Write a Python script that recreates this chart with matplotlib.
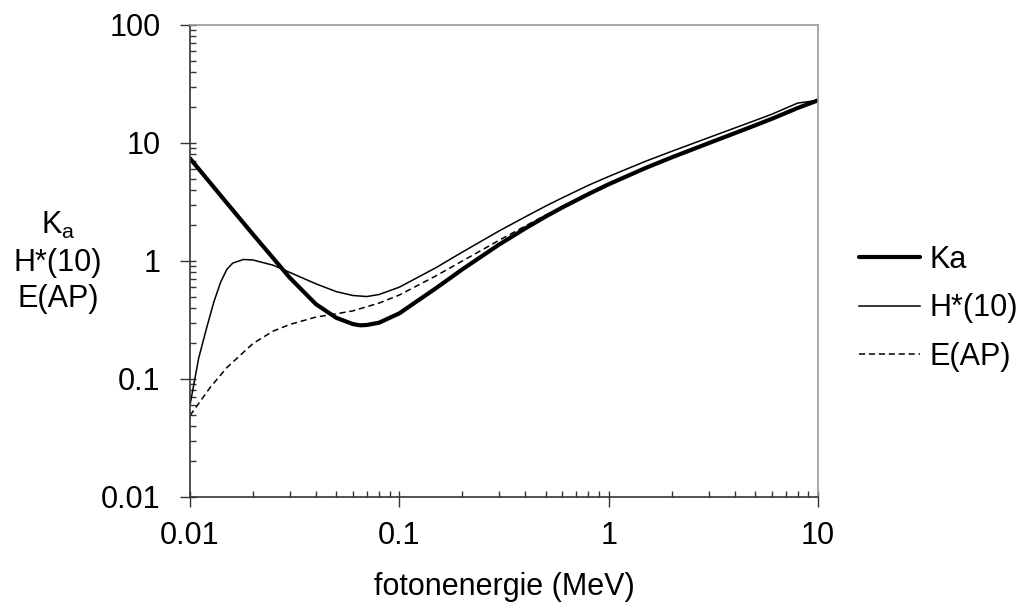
import numpy as np
import matplotlib
matplotlib.use("Agg")
from matplotlib import pyplot as plt
from matplotlib.ticker import LogLocator, FixedFormatter, FixedLocator, NullFormatter

plt.rcParams['font.family'] = ['Liberation Sans', 'DejaVu Sans']
plt.rcParams['mathtext.default'] = 'regular'

# photon energy (MeV) and conversion coefficients
energy_ka = [0.01, 0.015, 0.02, 0.03, 0.04, 0.05, 0.06, 0.065, 0.07, 0.08, 0.1, 0.15, 0.2, 0.3,
             0.4, 0.5, 0.6, 0.8, 1, 1.5, 2, 3, 4, 5, 6, 8, 10]
ka = [7.4, 3.1, 1.68, 0.72, 0.43, 0.33, 0.292, 0.285, 0.287, 0.30, 0.36, 0.59, 0.85, 1.38,
      1.89, 2.38, 2.84, 3.69, 4.47, 6.14, 7.55, 9.96, 12.1, 14.1, 16.0, 19.8, 23.0]

energy_h = [0.01, 0.011, 0.012, 0.013, 0.014, 0.015, 0.016, 0.018, 0.02, 0.025, 0.03, 0.04,
            0.05, 0.06, 0.07, 0.08, 0.1, 0.15, 0.2, 0.3, 0.4, 0.5, 0.6, 0.8, 1, 1.5, 2, 3,
            4, 5, 6, 8, 10]
h10 = [0.06, 0.15, 0.27, 0.45, 0.66, 0.85, 0.96, 1.03, 1.02, 0.92, 0.80, 0.64,
       0.55, 0.51, 0.50, 0.52, 0.60, 0.88, 1.19, 1.80, 2.37, 2.92, 3.43, 4.38, 5.2, 7.0,
       8.5, 11.1, 13.4, 15.5, 17.5, 21.8, 23.0]

energy_e = [0.01, 0.0125, 0.015, 0.02, 0.025, 0.03, 0.04, 0.05, 0.06, 0.08, 0.1, 0.15, 0.2,
            0.3, 0.4, 0.5, 0.6, 0.8, 1, 1.5, 2, 3, 4, 5, 6, 8, 10]
e_ap = [0.049, 0.085, 0.125, 0.2, 0.255, 0.29, 0.335, 0.357, 0.378, 0.44, 0.515, 0.75, 1.0,
        1.5, 1.98, 2.45, 2.88, 3.69, 4.47, 6.1, 7.5, 9.9, 12.0, 14.0, 15.9, 19.7, 23.0]

x_ticks = [0.01, 0.1, 1, 10]
x_labels = ['0.01', '0.1', '1', '10']
y_ticks = [0.01, 0.1, 1, 10, 100]
y_labels = ['0.01', '0.1', '1', '10', '100']

fig = plt.figure(figsize=(10.26, 6.07), dpi=100)
ax = fig.add_axes([190/1026, 1-497/607, 628/1026, 472/607])

ax.plot(energy_ka, ka, color='black', lw=3.0, label='Ka', solid_capstyle='round',
        solid_joinstyle='round')
ax.plot(energy_h, h10, color='black', lw=1.1, label='H*(10)', solid_joinstyle='round')
ax.plot(energy_e, e_ap, color='black', lw=1.1, ls=(0, (4, 2.5)), label='E(AP)')

ax.set_xscale('log')
ax.set_yscale('log')
ax.set_xlim(0.01, 10)
ax.set_ylim(0.01, 100)

ax.xaxis.set_major_locator(FixedLocator(x_ticks))
ax.xaxis.set_major_formatter(FixedFormatter(x_labels))
ax.yaxis.set_major_locator(FixedLocator(y_ticks))
ax.yaxis.set_major_formatter(FixedFormatter(y_labels))
ax.xaxis.set_minor_locator(LogLocator(base=10, subs=np.arange(1, 10)))
ax.yaxis.set_minor_locator(LogLocator(base=10, subs=np.arange(1, 10)))
ax.xaxis.set_minor_formatter(NullFormatter())
ax.yaxis.set_minor_formatter(NullFormatter())
ax.xaxis.remove_overlapping_locs = False
ax.yaxis.remove_overlapping_locs = False

ax.tick_params(which='major', direction='out', length=7.2, width=1, color='#333333',
               labelsize=22)
ax.tick_params(which='minor', direction='in', length=4.3, width=1, color='#333333')
ax.tick_params(axis='y', which='major', pad=14)
ax.tick_params(axis='x', which='major', pad=10)

for side in ['left', 'bottom']:
    ax.spines[side].set_color('#333333')
    ax.spines[side].set_linewidth(1.2)
for side in ['top', 'right']:
    ax.spines[side].set_color('#999999')
    ax.spines[side].set_linewidth(1.2)

ax.set_xlabel('fotonenergie (MeV)', fontsize=22, labelpad=15)
fig.text(58/1026, 1-262/607, 'K$_a$\nH*(10)\nE(AP)', fontsize=22, ha='center',
         va='center', multialignment='center', linespacing=1.3)

ax.legend(loc='center left', bbox_to_anchor=(1.046, 0.40), frameon=False, fontsize=22,
          handlelength=2.0, handletextpad=0.3, labelspacing=0.6, borderaxespad=0)

fig.savefig('out.png', dpi=100)
